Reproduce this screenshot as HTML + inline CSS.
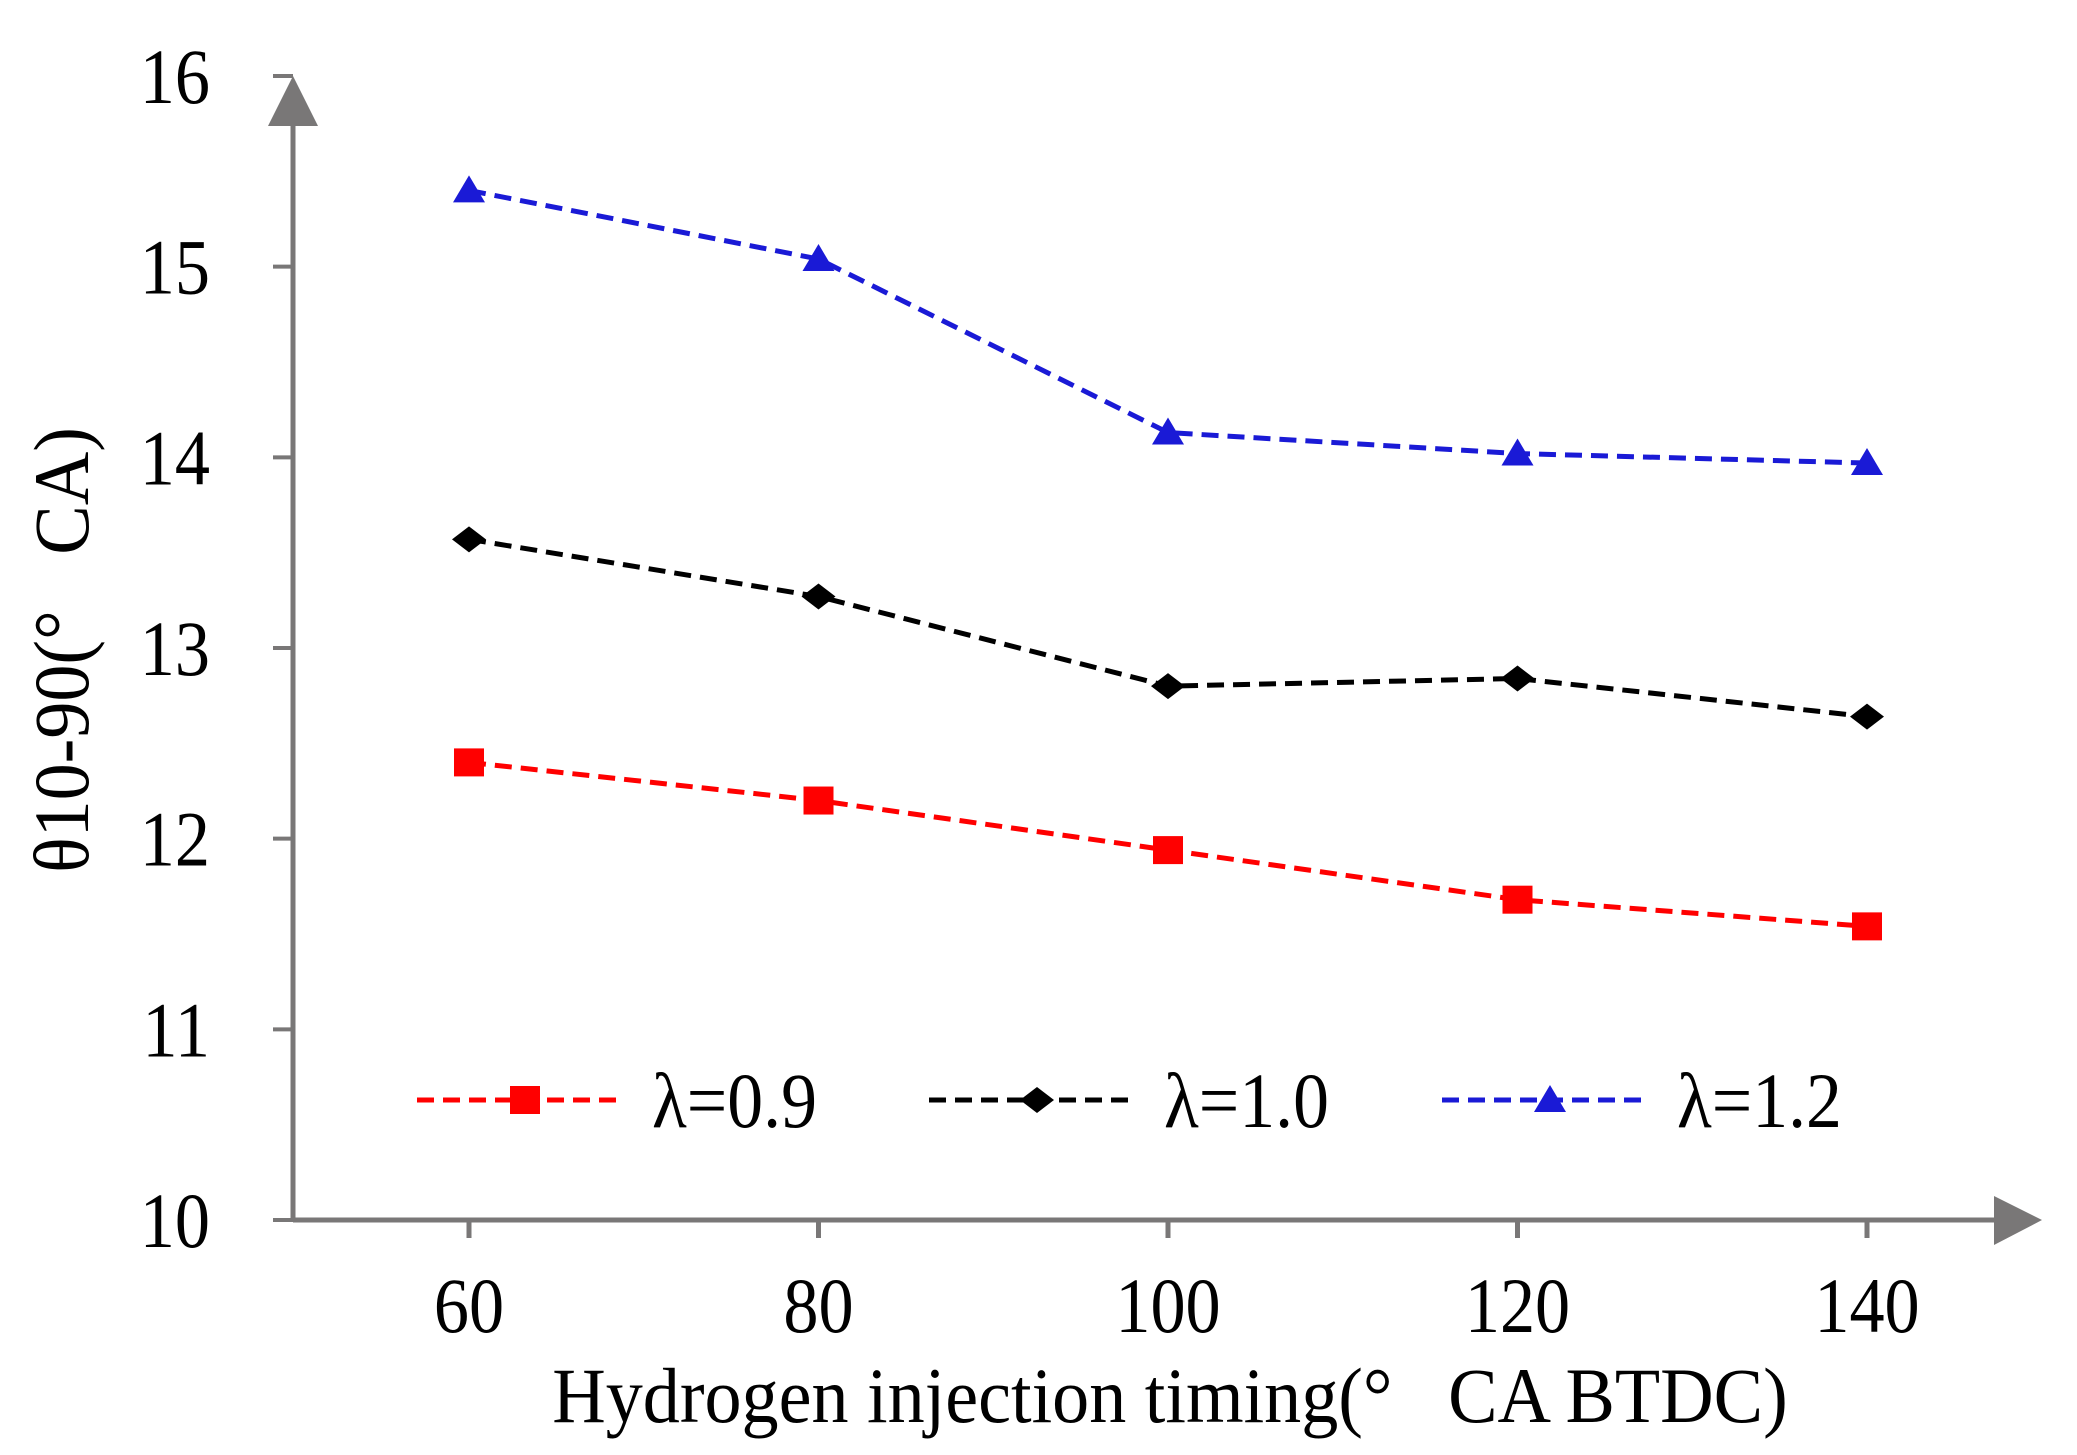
<!DOCTYPE html>
<html><head><meta charset="utf-8"><style>
html,body{margin:0;padding:0;background:#fff;}
svg{display:block;font-family:"Liberation Serif",serif;}
</style></head><body>
<svg id="chart" width="2077" height="1455" viewBox="0 0 2077 1455" xmlns="http://www.w3.org/2000/svg">
<g id="axes"></g>
<g id="series"></g>
<g id="legend"></g>
</svg>
<script>
const categories = [60, 80, 100, 120, 140];
const yTicks = [10, 11, 12, 13, 14, 15, 16];
const seriesNames = ["λ=0.9", "λ=1.0", "λ=1.2"];
const red09 = [12.4, 12.2, 11.94, 11.68, 11.54];
const black10 = [13.57, 13.27, 12.8, 12.84, 12.64];
const blue12 = [15.4, 15.04, 14.13, 14.02, 13.97];

const NS = "http://www.w3.org/2000/svg";
const X0 = 293, Y0 = 1220, YTOP = 76;
function xs(i){ return 469 + i * 349.5; }
function ys(v){ return Y0 - (v - 10) * (Y0 - YTOP) / 6; }
function mk(tag, attrs, parent, text){
  const e = document.createElementNS(NS, tag);
  for (const k in attrs) e.setAttribute(k, attrs[k]);
  if (text !== undefined) e.textContent = text;
  parent.appendChild(e); return e;
}
const axes = document.getElementById('axes');
const gray = "#797777";
let e;
e = mk('line', {x1:X0, y1:Y0, x2:X0, y2:110, stroke:gray, 'stroke-width':5}, axes);


e = mk('polygon', {points:`${X0-25},126 ${X0+25},126 ${X0},76`, fill:gray}, axes);


e = mk('line', {x1:X0, y1:Y0, x2:2000, y2:Y0, stroke:gray, 'stroke-width':5}, axes);


e = mk('polygon', {points:`1994,1196 1994,1245 2042,1220`, fill:gray}, axes);


yTicks.forEach(v => {
  const y = ys(v);
  const t = mk('line', {x1:X0-20, y1:y, x2:X0, y2:y, stroke:gray, 'stroke-width':4}, axes);
  
  
  const l = mk('text', {x:210, y:y+27, 'text-anchor':'end', 'font-size':78, transform:`translate(${210*0.1},0) scale(0.9,1)`}, axes, String(v));
  
  
});
categories.forEach((c, i) => {
  const x = xs(i);
  const t = mk('line', {x1:x, y1:Y0, x2:x, y2:Y0+18, stroke:gray, 'stroke-width':5}, axes);
  
  
  const l = mk('text', {x:x/0.9, y:1332, 'text-anchor':'middle', 'font-size':78, transform:'scale(0.9,1)'}, axes, String(c));
  
  
});
e = mk('text', {x:1170/0.95, y:1422, 'text-anchor':'middle', 'font-size':78, transform:'scale(0.95,1)'}, axes, "Hydrogen injection timing(°\u00a0\u00a0\u00a0CA BTDC)");


e = mk('text', {x:0, y:0, 'text-anchor':'middle', 'font-size':78, transform:'translate(88,650) rotate(-90) scale(0.95,1)'}, axes, "θ10-90(°\u00a0\u00a0\u00a0CA)");



function marker(type, x, y, color, parent){
  let m;
  if (type === 'square') m = mk('rect', {x:x-15, y:y-14, width:30, height:28, fill:color}, parent);
  else if (type === 'diamond') m = mk('polygon', {points:`${x-17},${y} ${x},${y-13} ${x+17},${y} ${x},${y+13}`, fill:color}, parent);
  else m = mk('polygon', {points:`${x-16},${y+12} ${x+16},${y+12} ${x},${y-15}`, fill:color}, parent);
  return m;
}
const defs = [
  {vals:red09, color:"#ff0000", m:'square', name:'series-lambda-0-9'},
  {vals:black10, color:"#000000", m:'diamond', name:'series-lambda-1-0'},
  {vals:blue12, color:"#1a1ad6", m:'triangle', name:'series-lambda-1-2'}
];
const sg = document.getElementById('series');
defs.forEach(d => {
  const g = mk('g', {}, sg);
  
  
  const pts = d.vals.map((v,i)=>`${xs(i)},${ys(v)}`).join(' ');
  const pl = mk('polyline', {points:pts, fill:'none', stroke:d.color, 'stroke-width':5, 'stroke-dasharray':'17 9'}, g);
  
  
  d.vals.forEach((v,i)=>{
    const m = marker(d.m, xs(i), ys(v), d.color, g);
    
    
  });
});
const lg = document.getElementById('legend');
const legX = [417, 929, 1442];
defs.forEach((d, k) => {
  const g = mk('g', {}, lg);
  
  
  const x = legX[k], y = 1100;
  mk('line', {x1:x, y1:y, x2:x+206, y2:y, stroke:d.color, 'stroke-width':5, 'stroke-dasharray':'17 9'}, g);
  marker(d.m, x+108, y, d.color, g);
  const t = mk('text', {x:(x+235)/0.92, y:y+27, 'font-size':78, transform:'scale(0.92,1)'}, g, seriesNames[k]);
  
  
});
</script>
</body></html>
